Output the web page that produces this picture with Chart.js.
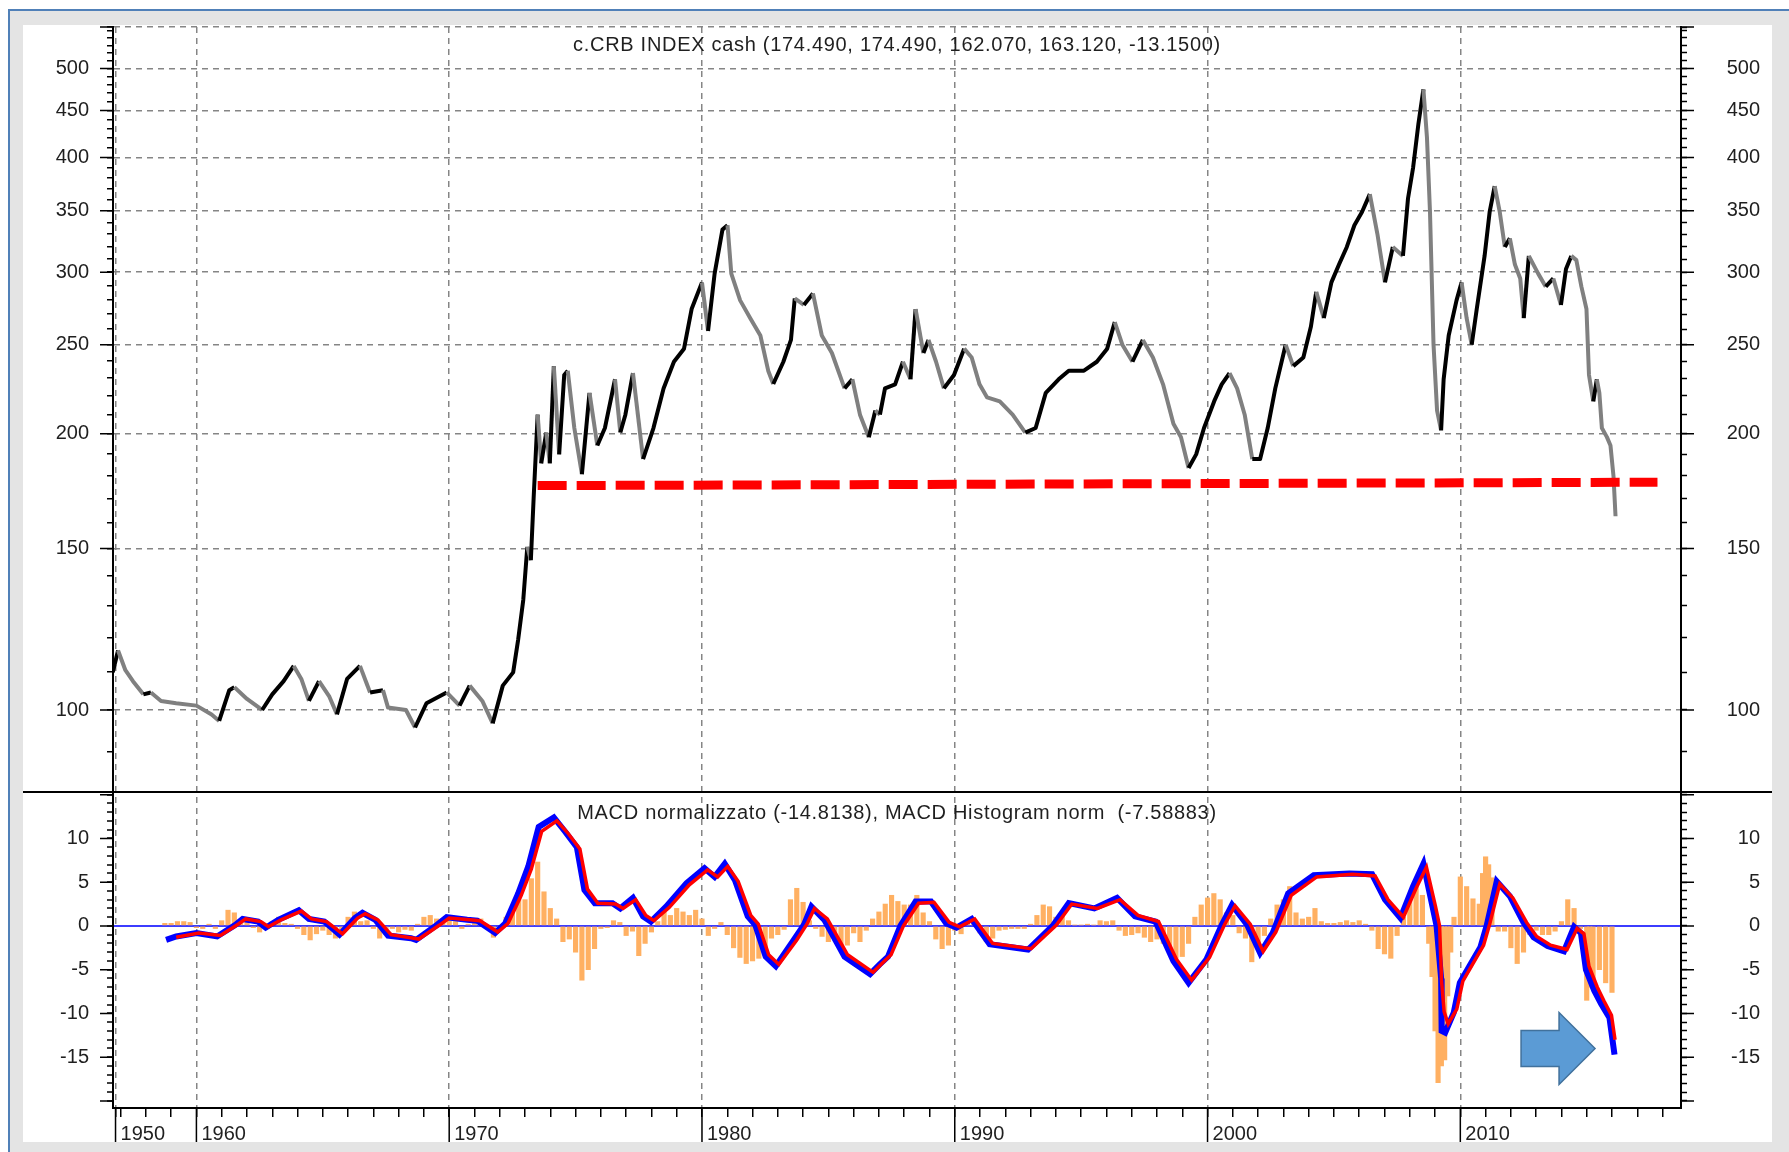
<!DOCTYPE html>
<html lang="it">
<head>
<meta charset="UTF-8">
<title>c.CRB INDEX cash - MACD normalizzato</title>
<script src="https://cdn.jsdelivr.net/npm/chart.js"></script>
<style>
    html, body { margin: 0; padding: 0; background: #fff; }
    body { width: 1789px; height: 1152px; overflow: hidden; position: relative; }
    .cornice { position: absolute; left: 8px; top: 9px; right: -20px; bottom: -20px; background: #e4e4e4;
               border-left: 2px solid #5080b8; border-top: 2px solid #5080b8; }
    .pannello { position: absolute; left: 23px; top: 25px; width: 1749px; height: 1117px; background: #fff; }
    canvas { display: block; }
</style>
</head>
<body>
<div class="cornice"></div>
<div class="pannello"><canvas id="grafico" width="1749" height="1117"></canvas></div>

<script>
// CRB index (weekly close)
const priceYears = [
    1956.69, 1956.90, 1957.19, 1957.49, 1957.90, 1958.20, 1958.60, 1959.20, 1960.00, 1960.60,
    1960.90, 1961.30, 1961.50, 1962.00, 1962.60, 1963.00, 1963.45, 1963.85, 1964.15, 1964.45,
    1964.85, 1965.26, 1965.56, 1965.96, 1966.47, 1966.87, 1967.38, 1967.58, 1968.29, 1968.65,
    1969.10, 1969.90, 1970.41, 1970.81, 1971.31, 1971.72, 1972.12, 1972.53, 1972.73, 1972.93,
    1973.09, 1973.23, 1973.34, 1973.50, 1973.64, 1973.84, 1973.98, 1974.14, 1974.35, 1974.55,
    1974.69, 1974.95, 1975.25, 1975.55, 1975.86, 1976.16, 1976.56, 1976.77, 1976.97, 1977.27,
    1977.67, 1978.08, 1978.48, 1978.89, 1979.29, 1979.59, 1980.00, 1980.24, 1980.50, 1980.81,
    1981.01, 1981.16, 1981.51, 1981.91, 1982.31, 1982.62, 1982.82, 1983.22, 1983.52, 1983.67,
    1984.03, 1984.39, 1984.74, 1985.14, 1985.64, 1985.95, 1986.25, 1986.60, 1986.86, 1987.04,
    1987.24, 1987.64, 1987.95, 1988.25, 1988.45, 1988.76, 1988.96, 1989.26, 1989.57, 1989.97,
    1990.37, 1990.67, 1990.98, 1991.28, 1991.78, 1992.29, 1992.79, 1993.20, 1993.60, 1994.11,
    1994.51, 1995.11, 1995.62, 1996.03, 1996.33, 1996.63, 1997.03, 1997.44, 1997.84, 1998.24,
    1998.65, 1998.95, 1999.25, 1999.55, 1999.86, 2000.26, 2000.56, 2000.87, 2001.17, 2001.47,
    2001.77, 2002.08, 2002.38, 2002.68, 2003.09, 2003.39, 2003.79, 2004.09, 2004.30, 2004.60,
    2004.90, 2005.20, 2005.51, 2005.81, 2006.11, 2006.42, 2006.72, 2007.02, 2007.33, 2007.73,
    2007.93, 2008.13, 2008.34, 2008.54, 2008.68, 2008.80, 2008.94, 2009.08, 2009.24, 2009.34,
    2009.54, 2009.85, 2010.05, 2010.25, 2010.45, 2010.65, 2010.96, 2011.16, 2011.36, 2011.56,
    2011.76, 2011.96, 2012.16, 2012.37, 2012.51, 2012.71, 2013.08, 2013.38, 2013.68, 2013.98,
    2014.18, 2014.39, 2014.59, 2014.79, 2014.99, 2015.09, 2015.26, 2015.40, 2015.50, 2015.60,
    2015.80, 2015.94, 2016.06, 2016.14
];
const priceValues = [
    109.9, 116.1, 110.5, 107.5, 104.0, 104.5, 102.3, 101.7, 101.1, 98.9,
    97.3, 105.1, 105.9, 102.8, 100.0, 104.0, 107.5, 111.7, 108.1, 102.3,
    107.5, 103.4, 98.9, 108.1, 111.7, 104.5, 105.1, 100.6, 100.0, 95.7,
    101.7, 104.5, 101.1, 106.3, 102.3, 96.7, 106.3, 109.9, 119.4, 131.8,
    150.6, 145.6, 170.1, 209.8, 185.7, 200.6, 185.7, 237.0, 189.9, 231.8,
    234.3, 202.9, 180.7, 221.6, 194.2, 202.9, 229.3, 200.6, 209.8, 232.9,
    187.7, 202.9, 224.1, 239.6, 247.6, 273.5, 292.4, 258.8, 298.9, 333.8,
    337.5, 298.9, 279.5, 267.3, 255.9, 234.3, 226.6, 239.6, 253.1, 280.9,
    276.3, 284.4, 255.9, 244.9, 224.1, 229.3, 209.8, 198.3, 212.0, 209.8,
    224.1, 226.4, 239.6, 229.3, 273.5, 244.9, 253.1, 239.6, 224.1, 231.8,
    247.6, 242.2, 226.4, 219.1, 216.9, 209.8, 200.6, 202.9, 221.6, 229.3,
    234.3, 234.3, 239.6, 247.6, 264.7, 250.1, 239.6, 253.1, 242.2, 226.4,
    205.1, 198.3, 183.5, 189.9, 202.9, 216.9, 226.4, 232.9, 224.1, 209.8,
    187.7, 187.7, 202.9, 224.1, 250.1, 237.0, 242.2, 261.8, 285.5, 267.3,
    292.4, 305.8, 319.6, 337.5, 348.9, 364.9, 330.1, 292.4, 319.6, 312.5,
    360.9, 389.6, 434.9, 474.6, 420.8, 348.9, 250.1, 212.0, 201.7, 229.3,
    255.9, 279.5, 292.4, 267.3, 250.1, 273.5, 312.5, 348.9, 372.2, 348.9,
    319.6, 326.6, 305.8, 295.3, 267.3, 312.5, 298.9, 289.3, 295.3, 276.3,
    302.4, 312.5, 309.2, 289.3, 273.5, 231.8, 216.9, 229.3, 221.6, 202.9,
    198.3, 194.2, 179.7, 162.6
];

// red dashed support line
const supportYears = [1973.5, 2017.8];
const supportValues = [175.6, 177.1];

// MACD normalizzato (blue)
const macdYears = [
    1958.80, 1959.20, 1960.00, 1960.82, 1961.53, 1961.83, 1962.44, 1962.74, 1963.24, 1964.05,
    1964.45, 1965.06, 1965.66, 1966.27, 1966.57, 1967.08, 1967.58, 1968.49, 1968.69, 1969.50,
    1969.90, 1970.71, 1971.11, 1971.82, 1972.22, 1972.73, 1973.13, 1973.54, 1974.14, 1974.55,
    1975.05, 1975.35, 1975.76, 1976.46, 1976.77, 1977.27, 1977.67, 1977.98, 1978.58, 1979.39,
    1980.10, 1980.50, 1980.90, 1981.31, 1981.81, 1982.11, 1982.52, 1982.92, 1983.63, 1984.03,
    1984.33, 1984.84, 1985.64, 1986.65, 1987.03, 1987.36, 1987.85, 1988.45, 1989.06, 1989.66,
    1990.07, 1990.67, 1991.38, 1992.90, 1993.90, 1994.51, 1995.52, 1996.42, 1997.13, 1997.94,
    1998.65, 1999.25, 1999.96, 2000.56, 2000.97, 2001.57, 2002.08, 2002.58, 2003.19, 2004.20,
    2005.61, 2006.51, 2007.02, 2007.63, 2008.13, 2008.54, 2008.90, 2009.06, 2009.24, 2009.26,
    2009.40, 2009.74, 2009.98, 2010.38, 2010.80, 2011.04, 2011.44, 2011.96, 2012.50, 2012.90,
    2013.45, 2014.10, 2014.50, 2014.77, 2014.97, 2015.30, 2015.57, 2015.90, 2016.10
];
const macdValues = [
    -1.6, -1.2, -0.8, -1.2, 0.1, 0.8, 0.5, -0.2, 0.7, 1.8,
    0.8, 0.5, -1.0, 0.9, 1.5, 0.7, -1.1, -1.4, -1.6, 0.1,
    1.0, 0.7, 0.6, -0.8, 0.3, 3.7, 6.8, 11.3, 12.4, 10.9,
    9.0, 4.1, 2.6, 2.6, 2.0, 3.2, 1.1, 0.5, 2.2, 4.9,
    6.6, 5.6, 7.1, 5.2, 1.1, 0.1, -3.5, -4.6, -1.6, 0.1,
    2.2, 0.7, -3.5, -5.5, -4.4, -3.5, 0.0, 2.8, 2.8, 0.3,
    -0.2, 0.8, -2.1, -2.7, 0.1, 2.6, 2.0, 3.2, 1.1, 0.5,
    -4.0, -6.5, -3.8, 0.1, 2.4, 0.1, -3.1, -0.8, 3.7, 5.8,
    6.0, 5.9, 3.0, 0.9, 4.5, 7.1, 2.2, 0.0, -6.0, -12.0,
    -12.2, -9.9, -6.5, -4.5, -2.4, 0.0, 5.1, 3.4, 0.4, -1.3,
    -2.3, -2.9, -0.1, -0.8, -5.0, -7.4, -8.9, -10.5, -14.7
];

// second (red) line
const signalYears = [
    1959.20, 1960.10, 1960.95, 1961.65, 1961.95, 1962.55, 1962.85, 1963.35, 1964.15, 1964.55,
    1965.15, 1965.78, 1966.38, 1966.68, 1967.18, 1967.70, 1968.60, 1968.80, 1969.62, 1970.00,
    1970.82, 1971.22, 1971.92, 1972.33, 1972.85, 1973.25, 1973.66, 1974.26, 1974.67, 1975.17,
    1975.47, 1975.88, 1976.58, 1976.88, 1977.38, 1977.78, 1978.10, 1978.70, 1979.50, 1980.22,
    1980.62, 1981.02, 1981.43, 1981.93, 1982.23, 1982.64, 1983.04, 1983.75, 1984.15, 1984.45,
    1984.96, 1985.76, 1986.77, 1987.15, 1987.48, 1987.97, 1988.57, 1989.18, 1989.78, 1990.19,
    1990.79, 1991.50, 1993.02, 1994.02, 1994.63, 1995.64, 1996.54, 1997.25, 1998.06, 1998.77,
    1999.37, 2000.08, 2000.68, 2001.09, 2001.69, 2002.20, 2002.70, 2003.31, 2004.32, 2005.73,
    2006.63, 2007.14, 2007.75, 2008.25, 2008.66, 2009.02, 2009.18, 2009.26, 2009.36, 2009.52,
    2009.86, 2010.10, 2010.50, 2010.92, 2011.16, 2011.56, 2012.08, 2012.62, 2013.02, 2013.57,
    2014.22, 2014.62, 2014.89, 2015.09, 2015.42, 2015.69, 2015.98, 2016.12
];
const signalValues = [
    -1.3, -0.8, -1.1, 0.2, 0.8, 0.5, -0.1, 0.7, 1.7, 0.8,
    0.5, -0.9, 0.9, 1.4, 0.7, -1.0, -1.4, -1.5, 0.1, 0.9,
    0.7, 0.6, -0.7, 0.3, 3.5, 6.5, 10.8, 12.0, 10.7, 8.8,
    4.2, 2.6, 2.5, 2.0, 3.0, 1.2, 0.6, 2.1, 4.7, 6.4,
    5.6, 6.8, 5.1, 1.2, 0.2, -3.3, -4.4, -1.6, 0.2, 2.0,
    0.8, -3.3, -5.3, -4.2, -3.3, 0.0, 2.6, 2.7, 0.4, -0.1,
    0.8, -2.0, -2.6, 0.1, 2.5, 2.0, 3.0, 1.2, 0.5, -3.8,
    -6.2, -3.6, 0.2, 2.3, 0.2, -2.9, -0.7, 3.5, 5.6, 5.9,
    5.7, 3.0, 1.0, 4.3, 6.7, 2.2, 0.0, -6.4, -9.8, -11.2,
    -9.5, -6.3, -4.3, -2.2, 0.2, 4.8, 3.2, 0.4, -1.2, -2.2,
    -2.7, -0.3, -0.9, -4.6, -7.0, -8.6, -10.2, -13.0
];

// MACD Histogram norm (orange)
const histYears = [
    1958.75, 1959.00, 1959.25, 1959.50, 1959.75, 1960.00, 1960.25, 1960.50, 1960.75, 1961.00,
    1961.25, 1961.50, 1961.75, 1962.00, 1962.25, 1962.50, 1962.75, 1963.00, 1963.25, 1963.50,
    1963.75, 1964.00, 1964.25, 1964.50, 1964.75, 1965.00, 1965.25, 1965.50, 1965.75, 1966.00,
    1966.25, 1966.50, 1966.75, 1967.00, 1967.25, 1967.50, 1967.75, 1968.00, 1968.25, 1968.50,
    1968.75, 1969.00, 1969.25, 1969.50, 1969.75, 1970.00, 1970.25, 1970.50, 1970.75, 1971.00,
    1971.25, 1971.50, 1971.75, 1972.00, 1972.25, 1972.50, 1972.75, 1973.00, 1973.25, 1973.50,
    1973.75, 1974.00, 1974.25, 1974.50, 1974.75, 1975.00, 1975.25, 1975.50, 1975.75, 1976.00,
    1976.25, 1976.50, 1976.75, 1977.00, 1977.25, 1977.50, 1977.75, 1978.00, 1978.25, 1978.50,
    1978.75, 1979.00, 1979.25, 1979.50, 1979.75, 1980.00, 1980.25, 1980.50, 1980.75, 1981.00,
    1981.25, 1981.50, 1981.75, 1982.00, 1982.25, 1982.50, 1982.75, 1983.00, 1983.25, 1983.50,
    1983.75, 1984.00, 1984.25, 1984.50, 1984.75, 1985.00, 1985.25, 1985.50, 1985.75, 1986.00,
    1986.25, 1986.50, 1986.75, 1987.00, 1987.25, 1987.50, 1987.75, 1988.00, 1988.25, 1988.50,
    1988.75, 1989.00, 1989.25, 1989.50, 1989.75, 1990.00, 1990.25, 1990.50, 1990.75, 1991.00,
    1991.25, 1991.50, 1991.75, 1992.00, 1992.25, 1992.50, 1992.75, 1993.00, 1993.25, 1993.50,
    1993.75, 1994.00, 1994.25, 1994.50, 1994.75, 1995.00, 1995.25, 1995.50, 1995.75, 1996.00,
    1996.25, 1996.50, 1996.75, 1997.00, 1997.25, 1997.50, 1997.75, 1998.00, 1998.25, 1998.50,
    1998.75, 1999.00, 1999.25, 1999.50, 1999.75, 2000.00, 2000.25, 2000.50, 2000.75, 2001.00,
    2001.25, 2001.50, 2001.75, 2002.00, 2002.25, 2002.50, 2002.75, 2003.00, 2003.25, 2003.50,
    2003.75, 2004.00, 2004.25, 2004.50, 2004.75, 2005.00, 2005.25, 2005.50, 2005.75, 2006.00,
    2006.25, 2006.50, 2006.75, 2007.00, 2007.25, 2007.50, 2007.75, 2008.00, 2008.25, 2008.50,
    2008.75, 2008.88, 2009.00, 2009.12, 2009.25, 2009.38, 2009.50, 2009.62, 2009.75, 2010.00,
    2010.25, 2010.50, 2010.75, 2010.88, 2011.00, 2011.12, 2011.25, 2011.50, 2011.75, 2012.00,
    2012.25, 2012.50, 2012.75, 2013.00, 2013.25, 2013.50, 2013.75, 2014.00, 2014.25, 2014.50,
    2014.75, 2015.00, 2015.12, 2015.25, 2015.50, 2015.75, 2016.00
];
const histValues = [
    0.3, 0.3, 0.5, 0.5, 0.4, -0.2, -0.3, 0.2, -0.3, 0.6,
    1.8, 1.5, 0.6, 0.6, -0.2, -0.7, -0.3, 0.5, 1.0, 0.3,
    0.2, -0.3, -1.0, -1.6, -0.9, -0.5, -1.0, -1.4, -0.4, 1.0,
    1.6, 0.5, 0.6, -0.3, -1.4, -1.0, -0.3, -0.7, -0.4, -0.5,
    0.2, 1.0, 1.2, 0.8, 0.3, 0.6, 0.5, -0.3, 0.2, 0.5,
    0.8, -0.2, -1.3, -0.4, 1.0, 1.6, 3.5, 3.0, 5.4, 7.3,
    3.9, 2.0, 0.8, -1.8, -1.5, -3.0, -6.2, -5.0, -2.6, -0.3,
    -0.2, 0.6, 0.4, -1.1, -0.6, -3.4, -2.0, -0.7, 0.5, 1.6,
    1.2, 2.0, 1.6, 1.2, 1.8, 0.8, -1.1, -0.3, 0.4, -1.0,
    -2.5, -3.6, -4.3, -4.0, -3.7, -3.0, -1.4, -1.0, -0.4, 3.0,
    4.3, 2.7, 0.6, -0.3, -1.2, -1.8, -1.0, -2.6, -2.2, -0.8,
    -1.8, -0.5, 0.8, 1.6, 2.5, 3.5, 2.8, 2.4, 2.4, 3.5,
    1.5, 0.5, -1.5, -2.6, -2.2, -0.5, -0.9, 0.4, 0.6, -0.8,
    -1.8, -1.4, -0.5, -0.4, -0.3, -0.3, -0.3, 0.2, 1.2, 2.4,
    2.2, 1.0, 1.2, 0.6, 0.1, 0.1, 0.2, 0.1, 0.6, 0.5,
    0.6, -0.5, -1.1, -1.0, -0.8, -1.3, -1.8, -1.5, -2.0, -3.0,
    -3.7, -3.5, -2.0, 1.0, 2.4, 3.2, 3.7, 3.0, 1.5, 1.2,
    -0.8, -1.4, -4.1, -2.5, -1.1, 0.8, 2.4, 3.0, 4.5, 1.5,
    0.8, 1.0, 2.0, 0.5, 0.3, 0.3, 0.4, 0.6, 0.4, 0.6,
    0.2, -0.5, -2.6, -3.2, -3.7, -1.1, 1.0, 3.5, 4.5, 3.5,
    -2.0, -5.8, -12.0, -17.9, -16.0, -15.3, -8.0, -3.0, 1.0, 5.6,
    4.5, 3.1, 2.5, 6.0, 7.9, 7.0, 5.5, -0.6, -0.6, -2.5,
    -4.3, -3.0, -1.0, -0.5, -1.0, -1.0, -0.6, 0.5, 3.0, 2.0,
    -0.3, -8.5, -7.0, -6.0, -5.0, -6.5, -7.6
];

// axes
const xMin = 1956.7, xMax = 2018.73;
const decadeYears = [1956.8, 1960, 1970, 1980, 1990, 2000, 2010];
const decadeLabels = ['1950', '1960', '1970', '1980', '1990', '2000', '2010'];
const priceMin = 81.4, priceMax = 555;
const priceLabels = [100, 150, 200, 250, 300, 350, 400, 450, 500];
const macdMin = -20.8, macdMax = 15.3;
const macdLabels = [-15, -10, -5, 0, 5, 10];

const priceTitle = 'c.CRB INDEX cash (174.490, 174.490, 162.070, 163.120, -13.1500)';
const macdTitle = 'MACD normalizzato (-14.8138), MACD Histogram norm  (-7.58883)';
const arrowTip = { year: 2015.33, value: -14.0 };

const xTicks = [decadeYears[0]];
for (let a = 1957; a <= 2018; a++) xTicks.push(a);
const priceTicks = [];
for (let v = 90; v <= 550; v += 10) priceTicks.push(v);
priceTicks.push(priceMax);
const macdTicks = [];
for (let v = -20; v <= 15; v++) macdTicks.push(v);

const punti = (xs, ys) => xs.map((x, i) => ({ x: x, y: ys[i] }));
const grigioGriglia = '#858585';
const tickVal = c => (c && c.tick) ? c.tick.value : null;
const isDecade = v => decadeYears.includes(v);
const isPriceMajor = v => priceLabels.includes(v) || v === priceMax;
const isMacdMajor = v => v % 5 === 0;

Chart.defaults.font.family = "'Liberation Sans', Arial, sans-serif";
Chart.defaults.font.size = 20;
Chart.defaults.color = '#1f1f1f';

function asseY(tipo, pos, extra) {
    const sinistra = pos === 'left';
    return Object.assign({
        type: tipo,
        position: pos,
        afterFit: s => { s.width = sinistra ? 90 : 79; s.paddingTop = 0; s.paddingBottom = 0; },
        border: { color: '#000', width: 2 },
        ticks: { autoSkip: false, padding: 18, crossAlign: sinistra ? 'near' : 'far' }
    }, extra);
}

const scales = {
    x: {
        type: 'linear', min: xMin, max: xMax, offset: false,
        afterBuildTicks: s => { s.ticks = xTicks.map(v => ({ value: v })); },
        afterFit: s => { s.height = 34; s.paddingLeft = 0; s.paddingRight = 0; },
        grid: {
            offset: false,
            color: c => isDecade(tickVal(c)) ? grigioGriglia : 'rgba(0,0,0,0)',
            lineWidth: 1.5, tickLength: 9, tickColor: '#000', tickWidth: 1.5
        },
        border: { color: '#000', width: 2, dash: [6, 5] },
        ticks: {
            autoSkip: false, maxRotation: 0, align: 'start', labelOffset: 5, padding: 5,
            callback: v => isDecade(v) ? decadeLabels[decadeYears.indexOf(v)] : ''
        }
    },
    yPrice: asseY('logarithmic', 'left', {
        stack: 'sx', stackWeight: 765, weight: 1, min: priceMin, max: priceMax,
        afterBuildTicks: s => { s.ticks = priceTicks.map(v => ({ value: v })); },
        grid: {
            color: c => isPriceMajor(tickVal(c)) ? grigioGriglia : 'rgba(0,0,0,0)',
            lineWidth: 1.5, tickLength: 6, tickColor: '#000', tickWidth: 1.5
        },
        border: { color: '#000', width: 2, dash: [6, 5] },
        ticks: { autoSkip: false, padding: 18, callback: v => priceLabels.includes(v) ? String(v) : '' }
    }),
    yMacd: asseY('linear', 'left', {
        stack: 'sx', stackWeight: 316, weight: 0, min: macdMin, max: macdMax,
        afterBuildTicks: s => { s.ticks = macdTicks.map(v => ({ value: v })); },
        grid: {
            color: c => tickVal(c) === 0 ? '#3c3cff' : 'rgba(0,0,0,0)',
            lineWidth: 2, tickLength: 6, tickColor: '#000', tickWidth: 1.5
        },
        ticks: { autoSkip: false, padding: 18, callback: v => macdLabels.includes(v) ? String(v) : '' }
    }),
    yPriceR: asseY('logarithmic', 'right', {
        stack: 'dx', stackWeight: 765, weight: 0, min: priceMin, max: priceMax,
        afterBuildTicks: s => { s.ticks = priceTicks.map(v => ({ value: v })); },
        grid: { drawOnChartArea: false, tickLength: 6, tickColor: '#000', tickWidth: 1.5 },
        ticks: { autoSkip: false, padding: 18, crossAlign: 'far', callback: v => priceLabels.includes(v) ? String(v) : '' }
    }),
    yMacdR: asseY('linear', 'right', {
        stack: 'dx', stackWeight: 316, weight: 1, min: macdMin, max: macdMax,
        afterBuildTicks: s => { s.ticks = macdTicks.map(v => ({ value: v })); },
        grid: { drawOnChartArea: false, tickLength: 6, tickColor: '#000', tickWidth: 1.5 },
        ticks: { autoSkip: false, padding: 18, crossAlign: 'far', callback: v => macdLabels.includes(v) ? String(v) : '' }
    })
};

// long ticks, panel separator, titles and the arrow
const rifiniture = {
    id: 'rifiniture',
    afterDraw(chart) {
        const { ctx, chartArea: a, scales: s } = chart;
        ctx.save();
        ctx.strokeStyle = '#000';
        ctx.lineWidth = 1.5;
        ctx.beginPath();
        priceTicks.filter(isPriceMajor).forEach(v => {
            const y = s.yPrice.getPixelForValue(v);
            ctx.moveTo(a.left - 13, y); ctx.lineTo(a.left, y);
            ctx.moveTo(a.right, y); ctx.lineTo(a.right + 13, y);
        });
        macdTicks.filter(isMacdMajor).forEach(v => {
            const y = s.yMacd.getPixelForValue(v);
            ctx.moveTo(a.left - 13, y); ctx.lineTo(a.left, y);
            ctx.moveTo(a.right, y); ctx.lineTo(a.right + 13, y);
        });
        decadeYears.forEach(v => {
            const x = s.x.getPixelForValue(v);
            ctx.moveTo(x, a.bottom); ctx.lineTo(x, chart.height);
        });
        ctx.stroke();

        // separator between the two panels
        ctx.lineWidth = 2;
        ctx.beginPath();
        ctx.moveTo(0, s.yPrice.bottom);
        ctx.lineTo(chart.width, s.yPrice.bottom);
        ctx.stroke();

        // titles
        ctx.font = "20px 'Liberation Sans', Arial, sans-serif";
        ctx.fillStyle = '#1f1f1f';
        ctx.textAlign = 'center';
        ctx.textBaseline = 'middle';
        ctx.letterSpacing = '0.7px';
        const cx = (a.left + a.right) / 2;
        ctx.fillText(priceTitle, cx, s.yPrice.top + 18);
        ctx.fillText(macdTitle, cx, s.yMacd.top + 21);

        // blue block arrow
        const tx = s.x.getPixelForValue(arrowTip.year);
        const ty = s.yMacd.getPixelForValue(arrowTip.value);
        ctx.beginPath();
        ctx.moveTo(tx, ty);
        ctx.lineTo(tx - 36, ty - 36);
        ctx.lineTo(tx - 36, ty - 18);
        ctx.lineTo(tx - 74, ty - 18);
        ctx.lineTo(tx - 74, ty + 18);
        ctx.lineTo(tx - 36, ty + 18);
        ctx.lineTo(tx - 36, ty + 36);
        ctx.closePath();
        ctx.fillStyle = '#5b9bd5';
        ctx.fill();
        ctx.strokeStyle = '#41719c';
        ctx.lineWidth = 1.5;
        ctx.stroke();
        ctx.restore();
    }
};

new Chart(document.getElementById('grafico'), {
    type: 'line',
    data: {
        datasets: [
            {
                label: 'supporto', data: punti(supportYears, supportValues), yAxisID: 'yPrice',
                borderColor: '#ff0000', borderWidth: 9, borderDash: [29, 10], borderCapStyle: 'butt',
                pointRadius: 0, order: 0
            },
            {
                label: 'CRB', data: punti(priceYears, priceValues), yAxisID: 'yPrice',
                borderColor: '#000', borderWidth: 4, pointRadius: 0, borderJoinStyle: 'round', order: 1,
                segment: { borderColor: c => c.p1.parsed.y < c.p0.parsed.y ? '#808080' : '#000' }
            },
            {
                label: 'segnale', data: punti(signalYears, signalValues), yAxisID: 'yMacd',
                borderColor: '#ff0000', borderWidth: 3.5, pointRadius: 0, order: 2
            },
            {
                label: 'MACD', data: punti(macdYears, macdValues), yAxisID: 'yMacd',
                borderColor: '#0000ff', borderWidth: 6, pointRadius: 0, order: 3
            },
            {
                type: 'bar', label: 'Histogram', data: punti(histYears, histValues), yAxisID: 'yMacd',
                backgroundColor: '#ffb062', barThickness: 4.5, grouped: false, order: 4
            }
        ]
    },
    options: {
        responsive: false,
        devicePixelRatio: 1,
        animation: false,
        events: [],
        layout: { autoPadding: false, padding: { top: 2, right: 12, bottom: 0, left: 0 } },
        plugins: { legend: { display: false }, tooltip: { enabled: false }, title: { display: false } },
        scales: scales
    },
    plugins: [rifiniture]
});
</script>
</body>
</html>
